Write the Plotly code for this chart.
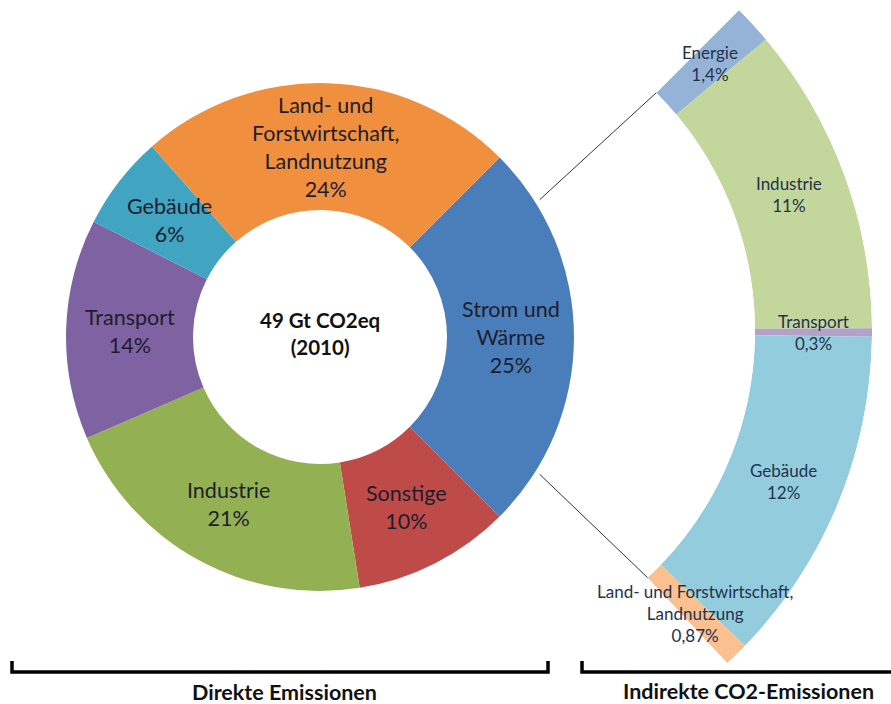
import math
import plotly.graph_objects as go

W, H = 891, 704

# Direct greenhouse-gas emissions by sector (share of 49 Gt CO2eq, 2010)
direct_sectors = ["Strom und<br>Wärme", "Sonstige", "Industrie", "Transport", "Gebäude",
                  "Land- und<br>Forstwirtschaft,<br>Landnutzung"]
direct_share = [25, 10, 21, 14, 6, 24]
direct_colors = ["#4A7EBB", "#BE4B48", "#93B153", "#7E62A1", "#41A5C1", "#F0903E"]

# Indirect CO2 emissions (electricity and heat) allocated to end-use sectors
indirect_sectors = ["Energie", "Industrie", "Transport", "Gebäude",
                    "Land- und Forstwirtschaft,<br>Landnutzung"]
indirect_share = [1.4, 11, 0.3, 12, 0.87]
indirect_colors = ["#95B3D7", "#C3D69B", "#B3A2C7", "#93CDDD", "#FAC090"]

center_label = "49 Gt CO2eq<br>(2010)"
bracket_labels = ["Direkte Emissionen", "Indirekte CO2-Emissionen"]

FONT = "Lato, Carlito, 'Open Sans', sans-serif"
TXT_DARK = "#1d1d2e"
TXT_NAVY = "#24324d"

# ---- geometry (pixels, origin top-left) ----
START = 45.0                      # first slice starts at 45 deg clockwise from 12 o'clock
D_CX, D_CY, D_R, D_HOLE = 320, 337, 254, 0.5
A_CX, A_CY, A_R, A_RIN = 418, 331, 454, 337


def px(x):
    return x / W


def py(y):
    return 1 - y / H


def polar_pt(cx, cy, r, ang):
    a = math.radians(ang)
    return cx + r * math.sin(a), cy - r * math.cos(a)


def pct(v):
    return f"{v:g}".replace(".", ",") + "%"


fig = go.Figure()

# ---- donut of direct emissions ----
fig.add_trace(go.Pie(
    labels=[s.replace("<br>", " ") for s in direct_sectors],
    values=direct_share,
    sort=False,
    direction="clockwise",
    rotation=START,
    hole=D_HOLE,
    marker=dict(colors=direct_colors, line=dict(width=0)),
    textinfo="none",
    hoverinfo="label+percent",
    showlegend=False,
    domain=dict(x=[px(D_CX - D_R), px(D_CX + D_R)],
                y=[py(D_CY + D_R), py(D_CY - D_R)]),
))

# ---- arc of indirect emissions (partial polar sector) ----
arc_total = sum(indirect_share) * 3.6
arc_end = START + arc_total
sector = [90 - arc_end, 90 - START]


def sector_bbox(s0, s1):
    angs = [s0, s1] + [a for a in range(-360, 721, 90) if s0 <= a <= s1]
    xs = [0] + [math.cos(math.radians(a)) for a in angs]
    ys = [0] + [math.sin(math.radians(a)) for a in angs]
    return min(xs), min(ys), max(xs), max(ys)


bx0, by0, bx1, by1 = sector_bbox(*sector)
polar_domain = dict(
    x=[px(A_CX + A_R * bx0), px(A_CX + A_R * bx1)],
    y=[py(A_CY - A_R * by0), py(A_CY - A_R * by1)],
)

theta_mid, theta_w = [], []
acc = START
for v in indirect_share:
    w = v * 3.6
    theta_mid.append(acc + w / 2)
    theta_w.append(w)
    acc += w

fig.add_trace(go.Barpolar(
    theta=theta_mid,
    r=[1] * len(indirect_share),
    base=[0] * len(indirect_share),
    width=theta_w,
    marker=dict(color=indirect_colors, line=dict(width=0)),
    text=[s.replace("<br>", " ") for s in indirect_sectors],
    hoverinfo="text",
    showlegend=False,
    subplot="polar",
))

annotations = []

# labels inside the donut slices
acc = START
r_mid = D_R * (1 + D_HOLE) / 2
for lab, v in zip(direct_sectors, direct_share):
    mid = acc + v * 1.8
    x, y = polar_pt(D_CX, D_CY, r_mid, mid)
    annotations.append(dict(x=px(x), y=py(y), xref="paper", yref="paper",
                            text=f"{lab}<br>{pct(v)}", showarrow=False,
                            xanchor="center", yanchor="middle",
                            font=dict(family=FONT, size=21.5, color=TXT_DARK)))
    acc += v * 3.6

# labels on the arc
r_mid_arc = (A_R + A_RIN) / 2
for lab, m, v in zip(indirect_sectors, theta_mid, indirect_share):
    x, y = polar_pt(A_CX, A_CY, r_mid_arc, m)
    annotations.append(dict(x=px(x), y=py(y), xref="paper", yref="paper",
                            text=f"{lab}<br>{pct(v)}", showarrow=False,
                            xanchor="center", yanchor="middle",
                            font=dict(family=FONT, size=17, color=TXT_NAVY)))

# centre of the donut
annotations.append(dict(x=px(D_CX), y=py(D_CY - 4), xref="paper", yref="paper",
                        text=f"<b>{center_label}</b>", showarrow=False,
                        xanchor="center", yanchor="middle",
                        font=dict(family=FONT, size=20.5, color="#111111")))

# bracket captions
annotations.append(dict(x=px(284), y=py(692), xref="paper", yref="paper",
                        text=f"<b>{bracket_labels[0]}</b>", showarrow=False,
                        xanchor="center", yanchor="middle",
                        font=dict(family=FONT, size=21.5, color="#111111")))
annotations.append(dict(x=px(748), y=py(691), xref="paper", yref="paper",
                        text=f"<b>{bracket_labels[1]}</b>", showarrow=False,
                        xanchor="center", yanchor="middle",
                        font=dict(family=FONT, size=21.5, color="#111111")))

shapes = []
# connector lines from the Strom-und-Wärme slice to the ends of the arc
spread = 32
for d_ang, a_ang in [(90 - spread, START), (90 + spread, arc_end)]:
    x0, y0 = polar_pt(D_CX, D_CY, D_R + 5, d_ang)
    x1, y1 = polar_pt(A_CX, A_CY, A_RIN, a_ang)
    shapes.append(dict(type="line", xref="paper", yref="paper",
                       x0=px(x0), y0=py(y0), x1=px(x1), y1=py(y1),
                       line=dict(color="#333333", width=1)))

# brackets under the two parts
def bracket(points):
    d = "M " + " L ".join(f"{px(x):.5f},{py(y):.5f}" for x, y in points)
    return dict(type="path", xref="paper", yref="paper", path=d,
                line=dict(color="#000000", width=3.5))

shapes.append(bracket([(12, 661), (12, 672), (548, 672), (548, 661)]))
shapes.append(bracket([(582, 661), (582, 672), (895, 672)]))

fig.update_layout(
    width=W, height=H,
    margin=dict(l=0, r=0, t=0, b=0, pad=0),
    paper_bgcolor="white",
    plot_bgcolor="white",
    showlegend=False,
    polar=dict(
        domain=polar_domain,
        sector=sector,
        hole=A_RIN / A_R,
        bgcolor="rgba(0,0,0,0)",
        angularaxis=dict(visible=False, rotation=90, direction="clockwise",
                         showgrid=False, showline=False, ticks=""),
        radialaxis=dict(visible=False, range=[0, 1], showgrid=False,
                        showline=False, ticks=""),
    ),
    annotations=annotations,
    shapes=shapes,
)

fig.write_html("out.html")
